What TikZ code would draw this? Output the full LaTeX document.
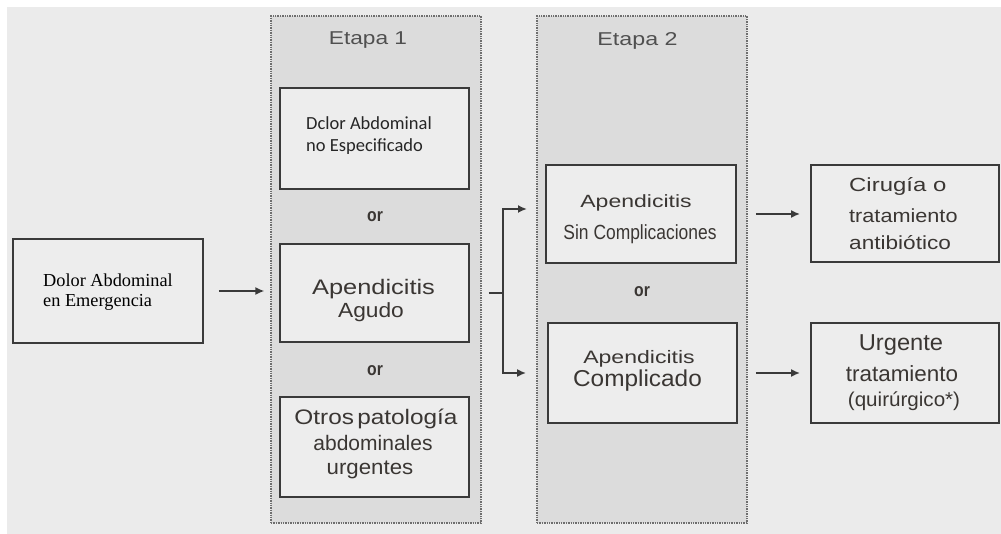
\documentclass[tikz,border=0pt]{standalone}
\usepackage{fontspec}
\setmainfont{Liberation Sans}
\newfontfamily\serifface{Liberation Serif}
\newfontfamily\calface{Carlito}
\usetikzlibrary{arrows.meta}
\definecolor{bg}{HTML}{EBEBEB}
\definecolor{stage}{HTML}{DCDCDC}
\definecolor{boxfill}{HTML}{EDEDED}
\definecolor{edge}{HTML}{3A3A3A}
\definecolor{txt}{HTML}{3A3633}
\definecolor{stagetxt}{HTML}{505050}
\definecolor{stageedge}{HTML}{6E6E6E}
\newcommand\fs[1]{\fontsize{#1}{#1}\selectfont}
\newcommand\wide[2]{\scalebox{#1}[1]{#2}}
\begin{document}
\begin{tikzpicture}[x=1pt,y=-1pt,
  box/.style={draw=edge, line width=1.8pt, fill=boxfill, inner sep=0pt},
  stagebox/.style={draw=stageedge, line width=1.1pt, dash pattern=on 1.4pt off 1pt, fill=stage, inner sep=0pt},
  lbl/.style={inner sep=0pt, anchor=base, text=txt},
  lbll/.style={inner sep=0pt, anchor=base west, text=txt},
  orlbl/.style={inner sep=0pt, anchor=base, text=txt, font=\fs{18.5}\bfseries},
  arr/.style={draw=edge, line width=1.8pt, -{Latex[length=9pt,width=8pt]}},
  ln/.style={draw=edge, line width=1.8pt}]
\fill[white] (0,0) rectangle (1001,534);
\fill[bg] (7,7) rectangle (1001,534);
\useasboundingbox (0,0) rectangle (1001,534);

% stage panels
\node[stagebox, minimum width=210pt, minimum height=507pt] (etapa1) at (376,269.5) {};
\node[stagebox, minimum width=210pt, minimum height=507pt] (etapa2) at (642,269.5) {};

% boxes
\node[box, minimum width=190pt, minimum height=104pt] (left) at (108,291) {};
\node[box, minimum width=189pt, minimum height=101pt] (noesp) at (374.5,138.5) {};
\node[box, minimum width=189pt, minimum height=98pt] (agudo) at (374.5,293) {};
\node[box, minimum width=189pt, minimum height=100pt] (otros) at (374.5,447) {};
\node[box, minimum width=190pt, minimum height=98pt] (sincomp) at (641,214) {};
\node[box, minimum width=189pt, minimum height=100pt] (comp) at (642.5,373) {};
\node[box, minimum width=188pt, minimum height=97pt] (cirugia) at (905,213.5) {};
\node[box, minimum width=188pt, minimum height=100pt] (urgente) at (905,373) {};

% stage titles
\node[lbl, font=\fs{18.6}, text=stagetxt] (et1) at (368,45) {\wide{1.22}{Etapa 1}};
\node[lbl, font=\fs{18.6}, text=stagetxt] (et2) at (637.5,46) {\wide{1.25}{Etapa 2}};

% texts
\node[lbll, font=\serifface\fs{18.3}, text=black] (l1) at (43,287) {Dolor Abdominal};
\node[lbll, font=\serifface\fs{18.3}, text=black] (l2) at (43,306.7) {en Emergencia};

\node[lbll, font=\calface\fs{18.5}, text=black!85] (n1) at (306,130) {Dclor Abdominal};
\node[lbll, font=\calface\fs{18.5}, text=black!85] (n2) at (306,151.7) {no Especificado};

\node[orlbl] (or1) at (375,221.7) {\wide{0.85}{or}};
\node[orlbl] (or2) at (375,375) {\wide{0.85}{or}};
\node[orlbl] (or3) at (642,297) {\wide{0.85}{or}};

\node[lbl, font=\fs{21}] (a1) at (373.5,295) {\wide{1.21}{Apendicitis}};
\node[lbl, font=\fs{20.5}] (a2) at (371,317.3) {\wide{1.11}{Agudo}};

\node[lbl, font=\fs{21}] (o1) at (376,424) {\wide{1.16}{Otros\kern-3pt{} patología}};
\node[lbl, font=\fs{21}] (o2) at (373,450) {abdominales};
\node[lbl, font=\fs{21}] (o3) at (370,474) {\wide{1.06}{urgentes}};

\node[lbl, font=\fs{17.7}] (s1) at (636,207.7) {\wide{1.3}{Apendicitis}};
\node[lbl, font=\fs{20.5}] (s2) at (640,239.3) {\wide{0.85}{Sin Complicaciones}};

\node[lbl, font=\fs{18}] (c1) at (639,363.3) {\wide{1.28}{Apendicitis}};
\node[lbl, font=\fs{23}] (c2) at (637.5,386) {\wide{1.06}{Complicado}};

\node[lbll, font=\fs{19}] (r1) at (849,191.7) {\wide{1.26}{Cirugía o}};
\node[lbll, font=\fs{19}] (r2) at (849,223) {\wide{1.14}{tratamiento}};
\node[lbll, font=\fs{19}] (r3) at (849,249.3) {\wide{1.19}{antibiótico}};

\node[lbl, font=\fs{23}] (u1) at (901,350.7) {\wide{1.03}{Urgente}};
\node[lbl, font=\fs{22}] (u2) at (902,381.7) {\wide{1.02}{tratamiento}};
\node[lbl, font=\fs{20}] (u3) at (904,406.7) {\wide{1.03}{(quirúrgico*)}};

% connectors
\draw[arr] ([xshift=15pt]left.east) -- ([xshift=-6pt]left.east -| etapa1.west);
\coordinate (split) at (503,293);
\coordinate (topend) at (527,209);
\draw[ln] ([xshift=7pt]etapa1.east |- agudo) -- (split);
\draw[arr] (split) |- (topend);
\draw[arr] (split) |- ([xshift=-21pt]comp.west);
\draw[arr] ([xshift=19pt]sincomp.east) -- ([xshift=-10pt]sincomp.east -| cirugia.west);
\draw[arr] ([xshift=18pt]comp.east) -- ([xshift=-10pt]comp.east -| urgente.west);
\end{tikzpicture}
\end{document}
